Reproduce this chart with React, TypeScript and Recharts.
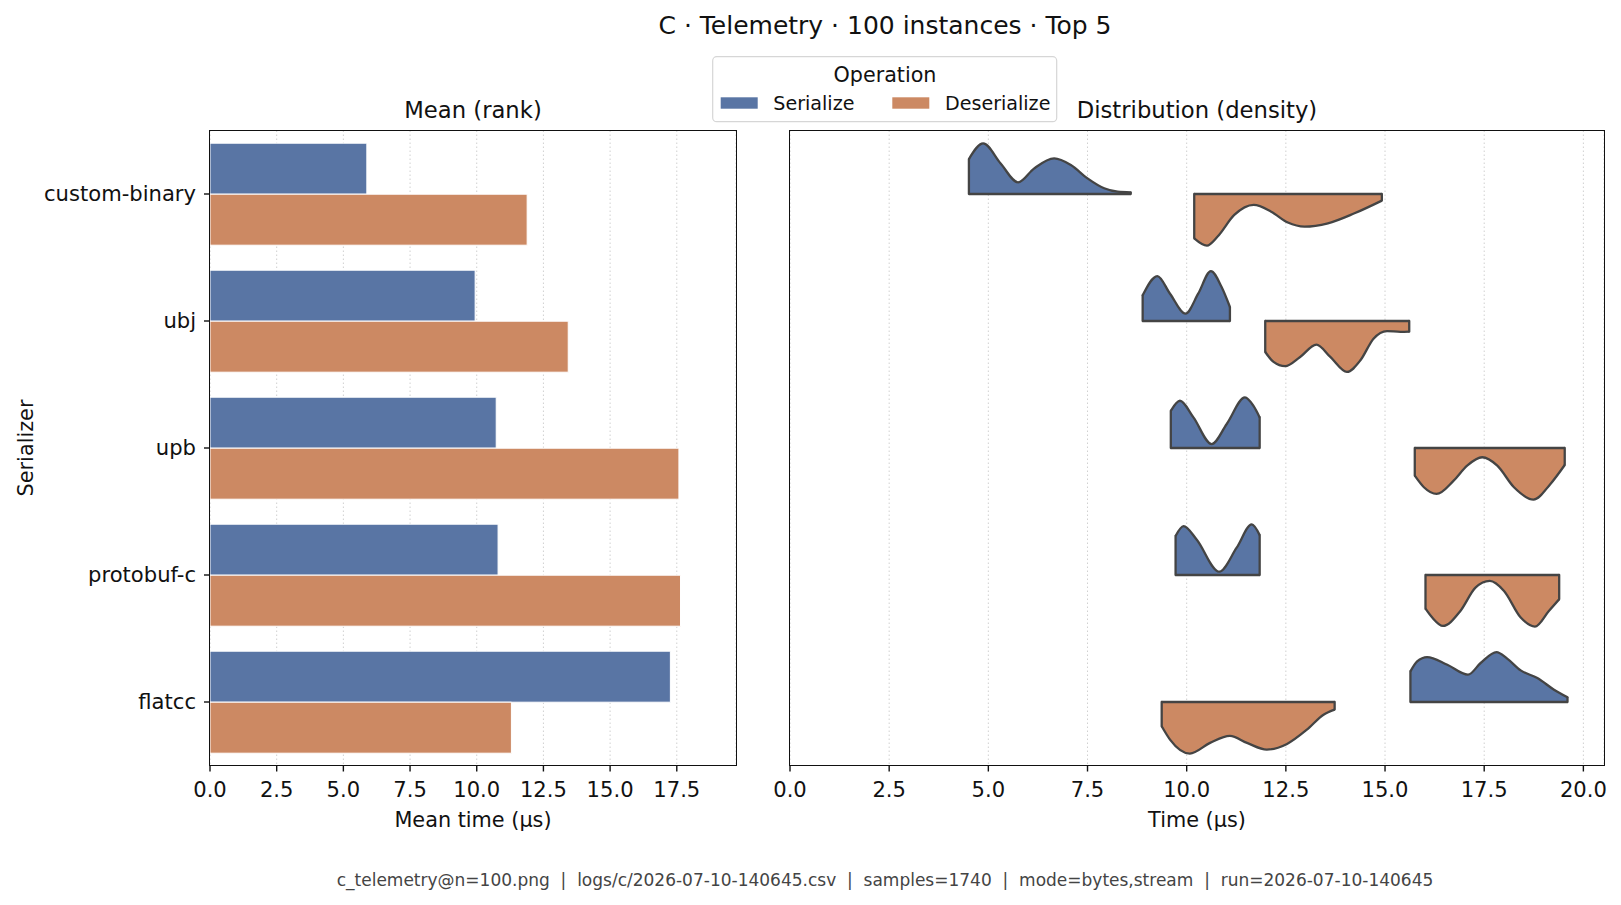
import React from 'react';
import {
  BarChart,
  Bar,
  XAxis,
  YAxis,
  CartesianGrid,
  ComposedChart,
  Area,
  ReferenceLine,
} from 'recharts';

// ---- data -------------------------------------------------------------
const serializers = ['custom-binary', 'ubj', 'upb', 'protobuf-c', 'flatcc'];
const serializeMean = [5.88, 9.94, 10.73, 10.8, 17.26];
const deserializeMean = [11.89, 13.43, 17.58, 17.64, 11.3];

const meanTicks = [0, 2.5, 5, 7.5, 10, 12.5, 15, 17.5];
const timeTicks = [0, 2.5, 5, 7.5, 10, 12.5, 15, 17.5, 20];
const rowTicks = [0, 1, 2, 3, 4];

// density profiles: [time (µs), half-violin width in row units]
const customBinarySerialize = [
  [4.51, 0.275], [4.87, 0.398], [5.31, 0.24], [5.75, 0.092], [6.15, 0.2],
  [6.66, 0.28], [7.08, 0.228], [7.5, 0.123], [7.92, 0.045], [8.26, 0.018], [8.59, 0.013],
];
const customBinaryDeserialize = [
  [10.19, 0.349], [10.51, 0.406], [10.78, 0.335], [11.2, 0.165], [11.69, 0.086],
  [12.13, 0.139], [12.55, 0.225], [12.97, 0.257], [13.56, 0.231], [14.23, 0.152], [14.92, 0.052],
];
const ubjSerialize = [
  [8.89, 0.202], [9.26, 0.354], [9.58, 0.215], [9.97, 0.058], [10.29, 0.215],
  [10.61, 0.393], [10.88, 0.267], [11.09, 0.11],
];
const ubjDeserialize = [
  [11.98, 0.244], [12.19, 0.322], [12.48, 0.356], [12.86, 0.283], [13.27, 0.186],
  [13.62, 0.283], [14.04, 0.401], [14.38, 0.309], [14.71, 0.139], [15.05, 0.079],
  [15.39, 0.086], [15.61, 0.084],
];
const upbSerialize = [
  [9.6, 0.293], [9.83, 0.372], [10.17, 0.241], [10.63, 0.031], [11.01, 0.189],
  [11.47, 0.398], [11.68, 0.333], [11.84, 0.241],
];
const upbDeserialize = [
  [15.75, 0.218], [15.98, 0.309], [16.3, 0.362], [16.73, 0.257], [17.07, 0.139],
  [17.45, 0.073], [17.83, 0.139], [18.25, 0.309], [18.74, 0.406], [19.17, 0.283], [19.53, 0.134],
];
const protobufCSerialize = [
  [9.72, 0.307], [9.92, 0.385], [10.25, 0.28], [10.82, 0.026], [11.26, 0.215],
  [11.64, 0.398], [11.84, 0.314],
];
const protobufCDeserialize = [
  [16.02, 0.265], [16.19, 0.335], [16.46, 0.401], [16.9, 0.283], [17.28, 0.1],
  [17.64, 0.047], [18.0, 0.126], [18.42, 0.335], [18.78, 0.406], [19.13, 0.283], [19.39, 0.191],
];
const flatccSerialize = [
  [15.64, 0.241], [15.81, 0.32], [16.06, 0.354], [16.57, 0.293], [17.09, 0.215],
  [17.41, 0.307], [17.81, 0.393], [18.08, 0.341], [18.42, 0.249], [18.84, 0.189],
  [19.26, 0.097], [19.6, 0.037],
];
const flatccDeserialize = [
  [9.37, 0.191], [9.58, 0.296], [10.08, 0.406], [10.59, 0.322], [11.09, 0.267],
  [11.52, 0.322], [12.02, 0.375], [12.53, 0.33], [13.03, 0.218], [13.45, 0.1], [13.73, 0.06],
];

const footerText =
  'c_telemetry@n=100.png  |  logs/c/2026-07-10-140645.csv  |  samples=1740  |  mode=bytes,stream  |  run=2026-07-10-140645';

// ---- styling ----------------------------------------------------------
const SER = '#5975a4';
const DES = '#cc8963';
const EDGE = '#444444';
const INK = '#111111';
const FONT = 'DejaVu Sans';
const GRID = '#d0d0d0';

const fmt = (v: number) => v.toFixed(1);
const tickStyle = { fontSize: 21.1, fill: INK, fontFamily: FONT };

const meanRows = serializers.map((name, i) => ({
  name,
  serialize: serializeMean[i],
  deserialize: deserializeMean[i],
}));

type Half = { id: string; row: number; side: number; color: string; profile: number[][] };

// Serialize halves grow upward from the row line, Deserialize halves downward.
const halves: Half[] = [
  { id: 'cb-s', row: 0, side: -1, color: SER, profile: customBinarySerialize },
  { id: 'cb-d', row: 0, side: 1, color: DES, profile: customBinaryDeserialize },
  { id: 'ubj-s', row: 1, side: -1, color: SER, profile: ubjSerialize },
  { id: 'ubj-d', row: 1, side: 1, color: DES, profile: ubjDeserialize },
  { id: 'upb-s', row: 2, side: -1, color: SER, profile: upbSerialize },
  { id: 'upb-d', row: 2, side: 1, color: DES, profile: upbDeserialize },
  { id: 'pb-s', row: 3, side: -1, color: SER, profile: protobufCSerialize },
  { id: 'pb-d', row: 3, side: 1, color: DES, profile: protobufCDeserialize },
  { id: 'fl-s', row: 4, side: -1, color: SER, profile: flatccSerialize },
  { id: 'fl-d', row: 4, side: 1, color: DES, profile: flatccDeserialize },
];

const halfData = (h: Half) =>
  h.profile.map(([t, d]) => ({ t, band: [h.row, h.row + h.side * d] }));

const Frame = ({ left, top, width, height }: { left: number; top: number; width: number; height: number }) => (
  <div
    style={{
      position: 'absolute',
      left: left - 0.75,
      top: top - 0.75,
      width: width + 1.5,
      height: height + 1.5,
      boxSizing: 'border-box',
      border: `1.5px solid ${INK}`,
      pointerEvents: 'none',
    }}
  />
);

export default function App() {
  return (
    <div
      style={{
        position: 'absolute',
        left: 0,
        top: 0,
        width: 1621,
        height: 905,
        background: '#fff',
        fontFamily: FONT,
        overflow: 'hidden',
      }}
    >
      {/* left panel: mean time per serializer */}
      <div style={{ position: 'absolute', left: 0, top: 0 }}>
        <BarChart
          width={760}
          height={905}
          data={meanRows}
          layout="vertical"
          margin={{ top: 130.5, right: 24, bottom: 79.5, left: 10 }}
          barCategoryGap="10%"
          barGap={0}
        >
          <CartesianGrid horizontal={false} vertical stroke={GRID} strokeDasharray="1.5 2.5" />
          <XAxis
            type="number"
            domain={[0, 19.72]}
            ticks={meanTicks}
            allowDataOverflow
            interval={0}
            height={60}
            tickFormatter={fmt}
            tick={tickStyle}
            tickLine={{ stroke: INK, strokeWidth: 1.4 }}
            tickSize={6}
            tickMargin={11}
            axisLine={false}
          />
          <YAxis
            type="category"
            dataKey="name"
            width={200}
            interval={0}
            tick={tickStyle}
            tickLine={{ stroke: INK, strokeWidth: 1.4 }}
            tickSize={6}
            tickMargin={8}
            axisLine={false}
          />
          <Bar dataKey="serialize" fill={SER} stroke="#ffffff" strokeWidth={1} isAnimationActive={false} />
          <Bar dataKey="deserialize" fill={DES} stroke="#ffffff" strokeWidth={1} isAnimationActive={false} />
        </BarChart>
      </div>

      {/* right panel: split density per serializer */}
      <div style={{ position: 'absolute', left: 760, top: 0 }}>
        <ComposedChart width={861} height={905} margin={{ top: 130.5, right: 17, bottom: 79.5, left: 30 }}>
          <CartesianGrid horizontal={false} vertical stroke={GRID} strokeDasharray="1.5 2.5" />
          <XAxis
            type="number"
            dataKey="t"
            domain={[0, 20.52]}
            ticks={timeTicks}
            allowDataOverflow
            interval={0}
            height={60}
            tickFormatter={fmt}
            tick={tickStyle}
            tickLine={{ stroke: INK, strokeWidth: 1.4 }}
            tickSize={6}
            tickMargin={11}
            axisLine={false}
          />
          <YAxis
            type="number"
            domain={[-0.5, 4.5]}
            reversed
            ticks={rowTicks}
            allowDataOverflow
            interval={0}
            width={0}
            tickFormatter={() => ''}
            tickLine={{ stroke: INK, strokeWidth: 1.4 }}
            tickSize={6}
            axisLine={false}
          />
          {halves.map((h) => (
            <Area
              key={h.id}
              data={halfData(h)}
              dataKey="band"
              type="monotone"
              fill={h.color}
              fillOpacity={1}
              stroke={EDGE}
              strokeWidth={2.3}
              strokeLinejoin="round"
              dot={false}
              activeDot={false}
              isAnimationActive={false}
            />
          ))}
          {halves.map((h) => {
            const first = h.profile[0];
            const last = h.profile[h.profile.length - 1];
            return [first, last].map(([t, d], k) => (
              <ReferenceLine
                key={`${h.id}-cap-${k}`}
                segment={[
                  { x: t, y: h.row },
                  { x: t, y: h.row + h.side * d },
                ]}
                stroke={EDGE}
                strokeWidth={2.3}
                strokeLinecap="round"
                ifOverflow="visible"
              />
            ));
          })}
        </ComposedChart>
      </div>

      <Frame left={210} top={130.5} width={526} height={635} />
      <Frame left={790} top={130.5} width={814} height={635} />

      {/* titles, axis labels, legend and footer */}
      <svg
        width={1621}
        height={905}
        style={{ position: 'absolute', left: 0, top: 0, pointerEvents: 'none' }}
        fontFamily={FONT}
      >
        <text x={885} y={34} textAnchor="middle" fontSize={25} fill={INK}>
          C · Telemetry · 100 instances · Top 5
        </text>
        <text x={473} y={117.5} textAnchor="middle" fontSize={22.7} fill={INK}>
          Mean (rank)
        </text>
        <text x={1197} y={117.5} textAnchor="middle" fontSize={22.7} fill={INK}>
          Distribution (density)
        </text>
        <text x={473} y={827} textAnchor="middle" fontSize={20.8} fill={INK}>
          Mean time (µs)
        </text>
        <text x={1197} y={827} textAnchor="middle" fontSize={20.8} fill={INK}>
          Time (µs)
        </text>
        <text
          x={0}
          y={0}
          transform="translate(32.5 448) rotate(-90)"
          textAnchor="middle"
          fontSize={20.8}
          fill={INK}
        >
          Serializer
        </text>

        <rect x={712.7} y={56.7} width={344} height={65} rx={4} fill="#ffffff" fillOpacity={0.85} stroke="#d6d6d6" strokeWidth={1.2} />
        <text x={885} y={81.7} textAnchor="middle" fontSize={20.7} fill={INK}>
          Operation
        </text>
        <rect x={720.7} y={97.3} width={37} height={11.4} fill={SER} />
        <text x={773.3} y={110} fontSize={19.1} fill={INK}>
          Serialize
        </text>
        <rect x={892.3} y={97.3} width={37} height={11.4} fill={DES} />
        <text x={945} y={110} fontSize={19.1} fill={INK}>
          Deserialize
        </text>

        <text x={885} y={886} textAnchor="middle" fontSize={17} fill="#444444" xmlSpace="preserve" style={{ whiteSpace: 'pre' }}>
          {footerText}
        </text>
      </svg>
    </div>
  );
}
